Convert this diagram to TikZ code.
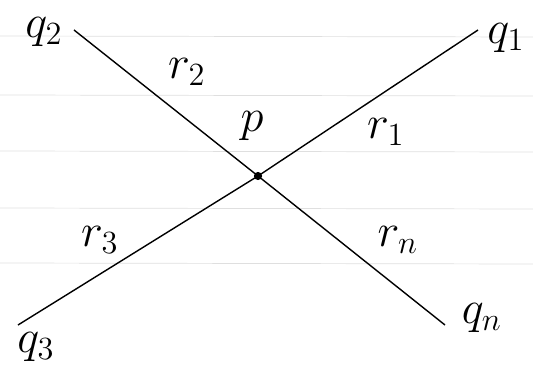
\documentclass[tikz,border=0pt]{standalone}
\usepackage{tikz}
\begin{document}
\begin{tikzpicture}[x=0.03cm, y=-0.03cm,
    ray/.style={black, line width=1.2pt},
    lbl/.style={font=\LARGE, scale=2.3, inner sep=0pt},
    ruled/.style={gray!25, line width=0.6pt}]
    % Page size
    \useasboundingbox (0,0) rectangle (533,373);

    % Ruled paper lines
    \foreach \y in {36, 95, 151, 208, 263} {
        \draw[ruled] (0,\y) -- (533,\y+1);
    }

    % Points
    \node[circle, fill=black, inner sep=0pt, minimum size=7pt] (P) at (258,176) {};
    \coordinate (q1) at (478,30);
    \coordinate (q2) at (74,30);
    \coordinate (q3) at (18,325);
    \coordinate (qn) at (445,325);

    % Lines through P
    \draw[ray] (q2) -- (P.center) -- (qn);
    \draw[ray] (q3) -- (P.center) -- (q1);

    % Labels
    \node[lbl] (labP) at (252,126) {$p$};
    \node[lbl] (labq1) at (506,38) {$q_1$};
    \node[lbl] (labq2) at (44,32) {$q_2$};
    \node[lbl] (labq3) at (36,347) {$q_3$};
    \node[lbl] (labqn) at (482,318) {$q_n$};
    \node[lbl] (labr1) at (386,132) {$r_1$};
    \node[lbl] (labr2) at (187,72) {$r_2$};
    \node[lbl] (labr3) at (100,240) {$r_3$};
    \node[lbl] (labrn) at (398,240) {$r_n$};
\end{tikzpicture}
\end{document}
